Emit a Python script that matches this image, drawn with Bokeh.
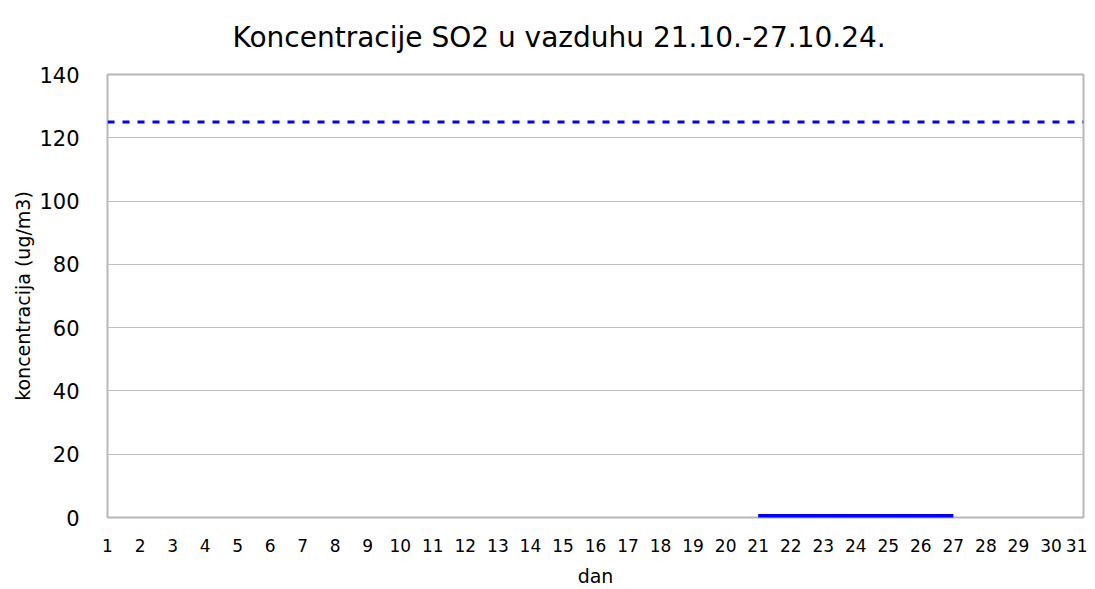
from bokeh.plotting import figure
from bokeh.models import Range1d, FixedTicker, Title
from bokeh.embed import file_html
from bokeh.resources import INLINE

days = list(range(1, 32))
so2_days = [21, 22, 23, 24, 25, 26, 27]
so2_values = [0.5, 0.5, 0.5, 0.5, 0.5, 0.5, 0.5]
limit_days = [1, 31]
limit_values = [125, 125]
y_ticks = [0, 20, 40, 60, 80, 100, 120, 140]
title_text = "Koncentracije  SO2 u vazduhu 21.10.-27.10.24."

FONT = "DejaVu Sans"

p = figure(width=1087, height=589, output_backend="svg", toolbar_location=None,
           x_range=Range1d(1, 31), y_range=Range1d(0, 140),
           min_border_left=107, min_border_right=4, min_border_top=74, min_border_bottom=71)

p.title = Title(text=title_text, align="left", vertical_align="top",
                text_font=FONT, text_font_size="28px", text_font_style="normal",
                text_color="#000000", standoff=38, offset=125)

p.line(limit_days, limit_values, line_color="#0000ff", line_width=3, line_dash="7 8")
p.line(so2_days, so2_values, line_color="#0000ff", line_width=4)

p.xaxis.ticker = FixedTicker(ticks=days)
p.yaxis.ticker = FixedTicker(ticks=y_ticks)
for ax in (p.xaxis[0], p.yaxis[0]):
    ax.axis_line_color = None
    ax.major_tick_line_color = None
    ax.minor_tick_line_color = None
    ax.major_label_text_font = FONT
    ax.axis_label_text_font = FONT
    ax.axis_label_text_font_style = "normal"
    ax.major_label_text_color = "#000000"
    ax.axis_label_text_color = "#000000"

p.xaxis.major_label_text_font_size = "17px"
p.yaxis.major_label_text_font_size = "21px"
p.xaxis.axis_label = "dan"
p.yaxis.axis_label = "koncentracija (ug/m3)"
p.xaxis.axis_label_text_font_size = "19px"
p.yaxis.axis_label_text_font_size = "19px"
p.xaxis.major_label_standoff = 15
p.yaxis.major_label_standoff = 22
p.xaxis.axis_label_standoff = 10
p.yaxis.axis_label_standoff = 2

p.xgrid.grid_line_color = None
p.ygrid.grid_line_color = "#c0c0c0"
p.ygrid.grid_line_width = 1

p.outline_line_color = "#b8b8b8"
p.outline_line_width = 2

open("out.html", "w").write(file_html(p, INLINE))
